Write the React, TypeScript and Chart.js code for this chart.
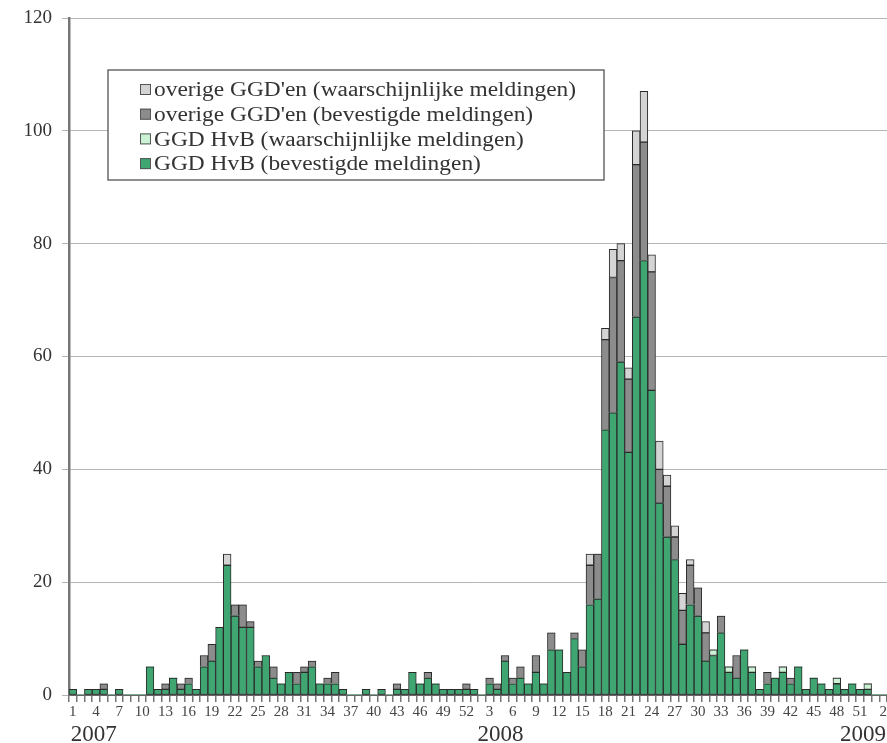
import React, { useEffect, useRef } from "react";
import { Chart, registerables } from "chart.js";

Chart.register(...registerables);

// Week numbers: 2007 weeks 1-52, 2008 weeks 1-52, 2009 weeks 1-2
const weeks2007 = Array.from({ length: 52 }, (_, i) => String(i + 1));
const weeks2008 = Array.from({ length: 52 }, (_, i) => String(i + 1));
const weeks2009 = ["1", "2"];
const weekLabels = [...weeks2007, ...weeks2008, ...weeks2009];

const yearLabels = ["2007", "2008", "2009"];
// category position (index) at which each year label is centred
const yearLabelPos = [2.7, 55.4, 102.4];

const yTicks = [0, 20, 40, 60, 80, 100, 120];

// GGD HvB (bevestigde meldingen)
const hvbConfirmed2007 = [1, 0, 1, 1, 1, 0, 1, 0, 0, 0, 5, 1, 1, 3, 1, 2, 1, 5, 6, 12, 23, 14, 12, 12, 5, 7, 3, 2, 4, 2, 4, 5, 2, 2, 2, 1, 0, 0, 1, 0, 1, 0, 1, 1, 4, 2, 3, 2, 1, 1, 1, 1];
const hvbConfirmed2008 = [1, 0, 2, 1, 6, 2, 3, 2, 4, 2, 8, 8, 4, 10, 5, 16, 17, 47, 50, 59, 43, 67, 77, 54, 34, 28, 24, 9, 16, 14, 6, 7, 11, 4, 3, 8, 4, 1, 2, 3, 4, 2, 5, 1, 3, 2, 1, 2, 1, 2, 1, 1];
const hvbConfirmed2009 = [0, 0];

// GGD HvB (waarschijnlijke meldingen)
const hvbProbable2007 = [0, 0, 0, 0, 0, 0, 0, 0, 0, 0, 0, 0, 0, 0, 0, 0, 0, 0, 0, 0, 0, 0, 0, 0, 0, 0, 0, 0, 0, 0, 0, 0, 0, 0, 0, 0, 0, 0, 0, 0, 0, 0, 0, 0, 0, 0, 0, 0, 0, 0, 0, 0];
const hvbProbable2008 = [0, 0, 0, 0, 0, 0, 0, 0, 0, 0, 0, 0, 0, 0, 0, 0, 0, 0, 0, 0, 0, 0, 0, 0, 0, 0, 0, 0, 0, 0, 0, 1, 0, 1, 0, 0, 1, 0, 0, 0, 1, 0, 0, 0, 0, 0, 0, 1, 0, 0, 0, 1];
const hvbProbable2009 = [0, 0];

// overige GGD'en (bevestigde meldingen)
const otherConfirmed2007 = [0, 0, 0, 0, 1, 0, 0, 0, 0, 0, 0, 0, 1, 0, 1, 1, 0, 2, 3, 0, 0, 2, 4, 1, 1, 0, 2, 0, 0, 2, 1, 1, 0, 1, 2, 0, 0, 0, 0, 0, 0, 0, 1, 0, 0, 0, 1, 0, 0, 0, 0, 1];
const otherConfirmed2008 = [0, 0, 1, 1, 1, 1, 2, 0, 3, 0, 3, 0, 0, 1, 3, 7, 8, 16, 24, 18, 13, 27, 21, 21, 6, 9, 4, 6, 7, 5, 5, 0, 3, 0, 4, 0, 0, 0, 2, 0, 0, 1, 0, 0, 0, 0, 0, 0, 0, 0, 0, 0];
const otherConfirmed2009 = [0, 0];

// overige GGD'en (waarschijnlijke meldingen)
const otherProbable2007 = [0, 0, 0, 0, 0, 0, 0, 0, 0, 0, 0, 0, 0, 0, 0, 0, 0, 0, 0, 0, 2, 0, 0, 0, 0, 0, 0, 0, 0, 0, 0, 0, 0, 0, 0, 0, 0, 0, 0, 0, 0, 0, 0, 0, 0, 0, 0, 0, 0, 0, 0, 0];
const otherProbable2008 = [0, 0, 0, 0, 0, 0, 0, 0, 0, 0, 0, 0, 0, 0, 0, 2, 0, 2, 5, 3, 2, 6, 9, 3, 5, 2, 2, 3, 1, 0, 2, 0, 0, 0, 0, 0, 0, 0, 0, 0, 0, 0, 0, 0, 0, 0, 0, 0, 0, 0, 0, 0];
const otherProbable2009 = [0, 0];

const hvbConfirmed = [...hvbConfirmed2007, ...hvbConfirmed2008, ...hvbConfirmed2009];
const hvbProbable = [...hvbProbable2007, ...hvbProbable2008, ...hvbProbable2009];
const otherConfirmed = [...otherConfirmed2007, ...otherConfirmed2008, ...otherConfirmed2009];
const otherProbable = [...otherProbable2007, ...otherProbable2008, ...otherProbable2009];

const SERIF = '"Liberation Serif", "Times New Roman", serif';

const legendPlugin = {
  id: "boxLegend",
  afterDraw(chart: any) {
    const { ctx, chartArea } = chart;
    const x0 = chartArea.left + 39;
    const y0 = chartArea.top + 52;
    const w = 496;
    const h = 110;
    ctx.save();
    ctx.fillStyle = "#ffffff";
    ctx.fillRect(x0, y0, w, h);
    ctx.strokeStyle = "#6a6a6a";
    ctx.lineWidth = 1.5;
    ctx.strokeRect(x0, y0, w, h);
    const items = chart.data.datasets.slice().reverse();
    items.forEach((ds: any, i: number) => {
      const cy = y0 + 20 + i * 24.7;
      ctx.fillStyle = ds.backgroundColor;
      ctx.fillRect(x0 + 32, cy - 6, 11, 11);
      ctx.strokeStyle = "#555";
      ctx.lineWidth = 1;
      ctx.strokeRect(x0 + 32.5, cy - 5.5, 10, 10);
      ctx.save();
      ctx.translate(x0 + 46, cy + 1);
      ctx.scale(1.17, 1);
      ctx.fillStyle = "#333";
      ctx.font = `20px ${SERIF}`;
      ctx.textBaseline = "middle";
      ctx.textAlign = "left";
      ctx.fillText(ds.label, 0, 0);
      ctx.restore();
    });
    ctx.restore();
  },
};

const yearPlugin = {
  id: "yearLabels",
  afterDraw(chart: any) {
    const { ctx } = chart;
    const xs = chart.scales.x;
    ctx.save();
    ctx.fillStyle = "#333";
    ctx.font = `23px ${SERIF}`;
    ctx.textAlign = "center";
    ctx.textBaseline = "alphabetic";
    yearLabels.forEach((yl, i) => {
      const px = xs.getPixelForValue(yearLabelPos[i]);
      ctx.fillText(yl, px, 741);
    });
    ctx.restore();
  },
};

export default function App() {
  const ref = useRef<HTMLCanvasElement>(null);
  useEffect(() => {
    document.body.style.margin = "0";
    const zeroless = (c: any) => (c.raw ? 1 : 0);
    const chart = new Chart(ref.current as HTMLCanvasElement, {
      type: "bar",
      data: {
        labels: weekLabels,
        datasets: [
          { label: "GGD HvB (bevestigde meldingen)", data: hvbConfirmed, backgroundColor: "#3fa672" },
          { label: "GGD HvB (waarschijnlijke meldingen)", data: hvbProbable, backgroundColor: "#ccf2d6" },
          { label: "overige GGD'en (bevestigde meldingen)", data: otherConfirmed, backgroundColor: "#8c8c8c" },
          { label: "overige GGD'en (waarschijnlijke meldingen)", data: otherProbable, backgroundColor: "#d4d4d4" },
        ].map((d) => ({
          ...d,
          borderColor: "#2a2a2a",
          borderWidth: zeroless,
          borderSkipped: false,
          barPercentage: 1,
          categoryPercentage: 1,
        })) as any,
      },
      options: {
        animation: false,
        responsive: false,
        layout: { padding: { top: 18, right: 0, left: 0, bottom: 0 } },
        plugins: { legend: { display: false }, tooltip: { enabled: false } },
        scales: {
          x: {
            stacked: true,
            offset: true,
            grid: {
              display: true,
              drawOnChartArea: false,
              drawTicks: true,
              tickLength: 7,
              color: "#777",
              lineWidth: 1.5,
              offset: true,
            },
            border: { display: true, color: "#666", width: 2 },
            ticks: {
              autoSkip: false,
              maxRotation: 0,
              minRotation: 0,
              padding: 1,
              color: "#444",
              font: { family: SERIF, size: 15 },
              callback: (_v: any, i: number) => (i % 3 === 0 ? weekLabels[i] : ""),
            },
            afterFit: (s: any) => {
              s.height = 48;
              s.paddingLeft = 0;
              s.paddingRight = 0;
            },
          },
          y: {
            stacked: true,
            min: 0,
            max: 120,
            afterBuildTicks: (s: any) => {
              s.ticks = yTicks.map((v) => ({ value: v }));
            },
            grid: { color: "#b4b4b4", lineWidth: 1, tickLength: 7, drawTicks: true },
            border: { display: true, color: "#777", width: 2.5 },
            ticks: {
              padding: 10,
              color: "#333",
              font: { family: SERIF, size: 19 },
            },
            afterFit: (s: any) => {
              s.width = 69;
              s.paddingTop = 0;
              s.paddingBottom = 0;
            },
          },
        },
      },
      plugins: [legendPlugin, yearPlugin],
    });
    return () => chart.destroy();
  }, []);
  return <canvas ref={ref} width={887} height={743} style={{ display: "block" }} />;
}
